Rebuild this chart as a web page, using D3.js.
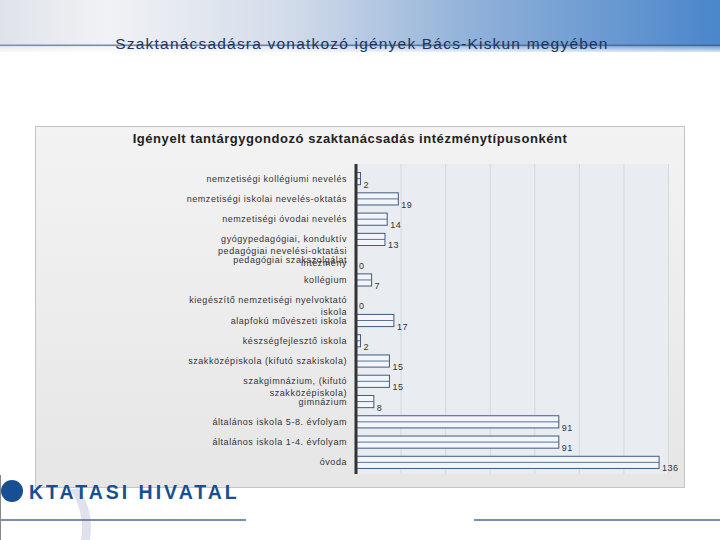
<!DOCTYPE html>
<html>
<head>
<meta charset="UTF-8">
<script src="https://d3js.org/d3.v7.min.js"></script>
<style>
  body { margin: 0; background: #fff; }
  svg text { font-family: "Liberation Sans", Arial, sans-serif; }
  .cat { font-size: 9px; fill: #333; letter-spacing: 0.55px; }
  .val { font-size: 9px; fill: #333; letter-spacing: 0.5px; }
  .gridlines line { stroke: #d6d9de; }
  .gridlines .domain { stroke: none; }
</style>
<title>Szaktanácsadásra vonatkozó igények</title>
</head>
<body>
<svg id="slide" width="720" height="540"></svg>
<script>
// categories, top to bottom ("|" = line break as in the original labels)
const categories = [
  "nemzetiségi kollégiumi nevelés",
  "nemzetiségi iskolai nevelés-oktatás",
  "nemzetiségi óvodai nevelés",
  "gyógypedagógiai, konduktív|pedagógiai nevelési-oktatási|intézmény",
  "pedagógiai szakszolgálat",
  "kollégium",
  "kiegészítő nemzetiségi nyelvoktató|iskola",
  "alapfokú művészeti iskola",
  "készségfejlesztő iskola",
  "szakközépiskola (kifutó szakiskola)",
  "szakgimnázium, (kifutó|szakközépiskola)",
  "gimnázium",
  "általános iskola 5-8. évfolyam",
  "általános iskola 1-4. évfolyam",
  "óvoda"
];
const values = [2, 19, 14, 13, 0, 7, 0, 17, 2, 15, 15, 8, 91, 91, 136];
const gridTicks = [20, 40, 60, 80, 100, 120, 140];

const slideTitle = "Szaktanácsadásra vonatkozó igények Bács-Kiskun megyében";
const chartTitle = "Igényelt tantárgygondozó szaktanácsadás intézménytípusonként";

const svg = d3.select("#slide");
const defs = svg.append("defs");

// header gradient
let hg = defs.append("linearGradient").attr("id", "hdr").attr("x1", 0).attr("x2", 1).attr("y1", 0).attr("y2", 0);
hg.append("stop").attr("offset", "0%").attr("stop-color", "#dfe3ea");
hg.append("stop").attr("offset", "15%").attr("stop-color", "#f1f2f5");
hg.append("stop").attr("offset", "40%").attr("stop-color", "#d3dcea");
hg.append("stop").attr("offset", "65%").attr("stop-color", "#92b2d9");
hg.append("stop").attr("offset", "100%").attr("stop-color", "#4a86cb");

let lg = defs.append("linearGradient").attr("id", "hline").attr("x1", 0).attr("x2", 1);
lg.append("stop").attr("offset", "0%").attr("stop-color", "#7d93b0");
lg.append("stop").attr("offset", "100%").attr("stop-color", "#3f6696");

let fade = defs.append("linearGradient").attr("id", "fade").attr("x1", 0).attr("x2", 0).attr("y1", 0).attr("y2", 1);
fade.append("stop").attr("offset", "0%").attr("stop-color", "#fff").attr("stop-opacity", 0);
fade.append("stop").attr("offset", "100%").attr("stop-color", "#fff").attr("stop-opacity", 1);

let boxg = defs.append("linearGradient").attr("id", "box").attr("x1", 0).attr("x2", 0).attr("y1", 0).attr("y2", 1);
boxg.append("stop").attr("offset", "0%").attr("stop-color", "#f3f3f3");
boxg.append("stop").attr("offset", "100%").attr("stop-color", "#e6e6e6");

svg.append("rect").attr("x", 0).attr("y", 0).attr("width", 720).attr("height", 52).attr("fill", "url(#hdr)");
svg.append("rect").attr("x", 0).attr("y", 44).attr("width", 720).attr("height", 10).attr("fill", "url(#fade)");
svg.append("rect").attr("x", 0).attr("y", 44.5).attr("width", 720).attr("height", 1.6).attr("fill", "url(#hline)");

svg.append("text")
   .attr("x", 362).attr("y", 49)
   .attr("text-anchor", "middle")
   .attr("font-size", "15.5px")
   .attr("letter-spacing", "1.2px")
   .attr("fill", "#1c3560")
   .text(slideTitle);

// chart box
svg.append("rect")
   .attr("x", 35.5).attr("y", 126.5).attr("width", 649).attr("height", 361)
   .attr("fill", "url(#box)").attr("stroke", "#c4c4c4");

svg.append("text")
   .attr("x", 350).attr("y", 143)
   .attr("text-anchor", "middle")
   .attr("font-size", "13px").attr("font-weight", "bold")
   .attr("letter-spacing", "0.55px")
   .attr("fill", "#222")
   .text(chartTitle);

const margin = {left: 356, top: 168};
const plotW = 312, plotH = 304;

const x = d3.scaleLinear().domain([0, 140]).range([0, plotW]);
const y = d3.scaleBand().domain(d3.range(categories.length)).range([0, plotH]).paddingInner(0.4).paddingOuter(0.2);

let plot = svg.append("g").attr("transform", "translate(" + margin.left + "," + margin.top + ")");

plot.append("rect").attr("x", 0).attr("y", -4).attr("width", plotW).attr("height", plotH + 6).attr("fill", "#e9ecf0");

let grid = d3.axisBottom(x).tickValues(gridTicks).tickFormat("").tickSize(-(plotH + 6)).tickSizeOuter(0);
plot.append("g")
    .attr("class", "gridlines")
    .attr("transform", "translate(0," + (plotH + 2) + ")")
    .call(grid);

// bars
categories.forEach((c, i) => {
  let y0 = y(i), bw = x(values[i]);
  if (values[i] > 0) {
    plot.append("rect")
        .attr("x", 0).attr("y", y0 + 0.5)
        .attr("width", bw).attr("height", y.bandwidth())
        .attr("fill", "#f2f5fa").attr("stroke", "#415b7e").attr("stroke-width", 1);
    plot.append("line")
        .attr("x1", 0).attr("x2", bw)
        .attr("y1", y0 + y.bandwidth() / 2 + 0.5).attr("y2", y0 + y.bandwidth() / 2 + 0.5)
        .attr("stroke", "#5a7295").attr("stroke-width", 1);
  }
  plot.append("text")
      .attr("class", "val")
      .attr("x", bw + 3)
      .attr("y", y0 + y.bandwidth() / 2 + 9.5)
      .text(values[i]);

  let lines = c.split("|");
  lines.forEach((ln, k) => {
    plot.append("text")
        .attr("class", "cat")
        .attr("x", -9)
        .attr("y", y0 + y.bandwidth() / 2 + 3.5 + k * 11.6)
        .attr("text-anchor", "end")
        .text(ln);
  });
});

// value axis line
plot.append("line")
    .attr("x1", 0).attr("x2", 0).attr("y1", -4).attr("y2", plotH + 2)
    .attr("stroke", "#333").attr("stroke-width", 3);

// logo
svg.append("path")
   .attr("d", "M70,490 C80,503 84,522 81,540 L90,540 C93,520 89,502 78,488 Z")
   .attr("fill", "#d9dcea").attr("opacity", 0.85);
svg.append("circle").attr("cx", 12).attr("cy", 491).attr("r", 11).attr("fill", "#174f93");
svg.append("text")
   .attr("x", 29).attr("y", 499)
   .attr("font-family", "'DejaVu Sans', sans-serif")
   .attr("font-size", "19.5px").attr("font-weight", "bold")
   .attr("letter-spacing", "3px")
   .attr("fill", "#174f93")
   .text("KTATASI HIVATAL");

svg.append("line").attr("x1", 0).attr("x2", 246).attr("y1", 520).attr("y2", 520).attr("stroke", "#4d6a8c").attr("stroke-width", 1.5);
svg.append("line").attr("x1", 474).attr("x2", 720).attr("y1", 520).attr("y2", 520).attr("stroke", "#4d6a8c").attr("stroke-width", 1.5);
svg.append("line").attr("x1", 0.5).attr("x2", 0.5).attr("y1", 475).attr("y2", 540).attr("stroke", "#888").attr("stroke-width", 1);
</script>
</body>
</html>
